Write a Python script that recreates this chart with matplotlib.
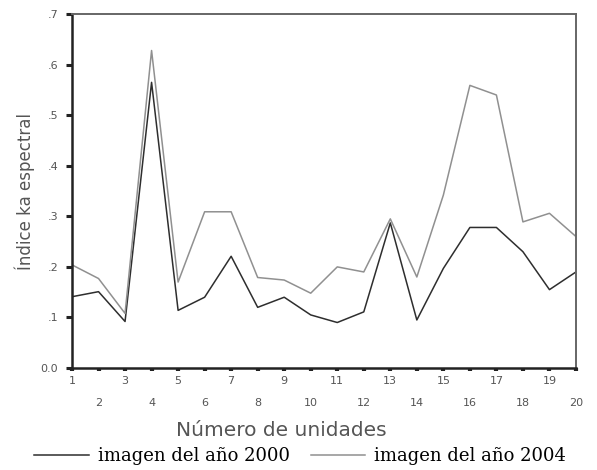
import numpy as np
import matplotlib.pyplot as plt

unidades = list(range(1, 21))
anio_2000 = [0.141, 0.151, 0.092, 0.565, 0.114, 0.140, 0.221, 0.120, 0.140, 0.105,
             0.090, 0.111, 0.287, 0.095, 0.197, 0.278, 0.278, 0.230, 0.155, 0.190]
anio_2004 = [0.204, 0.177, 0.108, 0.628, 0.170, 0.309, 0.309, 0.179, 0.174, 0.148,
             0.200, 0.190, 0.295, 0.180, 0.342, 0.559, 0.540, 0.289, 0.306, 0.260]
y_ticks = [0.0, 0.1, 0.2, 0.3, 0.4, 0.5, 0.6, 0.7]
y_labels = ['0.0', '.1', '.2', '.3', '.4', '.5', '.6', '.7']

fig = plt.figure(figsize=(5.97, 4.70), dpi=100)
ax = fig.add_axes([0.1206, 0.217, 0.8442, 0.753])

l1, = ax.plot(unidades, anio_2000, color='#2e2e2e', lw=1.1)
l2, = ax.plot(unidades, anio_2004, color='#909090', lw=1.1)

ax.set_xlim(1, 20)
ax.set_ylim(0, 0.7)

ax.set_yticks(y_ticks)
ax.set_yticklabels(y_labels)
ax.tick_params(axis='y', direction='out', length=4, width=2.2, color='#222222',
               labelsize=8, labelcolor='#555555', pad=6)

odd = [u for u in unidades if u % 2 == 1]
even = [u for u in unidades if u % 2 == 0]
ax.set_xticks(odd)
ax.set_xticklabels([str(u) for u in odd])
ax.set_xticks(even, minor=True)
ax.set_xticklabels([str(u) for u in even], minor=True)
ax.tick_params(axis='x', which='major', direction='out', length=2.5, width=3,
               color='#222222', labelsize=8, labelcolor='#555555', pad=3)
ax.tick_params(axis='x', which='minor', direction='out', length=2.5, width=3,
               color='#222222', labelsize=8, labelcolor='#555555', pad=19)

for side in ['left', 'bottom']:
    ax.spines[side].set_linewidth(1.8)
    ax.spines[side].set_color('#222222')
for side in ['top', 'right']:
    ax.spines[side].set_linewidth(1.4)
    ax.spines[side].set_color('#666666')

ax.set_xlabel('Número de unidades', fontsize=14.5, color='#555555')
ax.xaxis.set_label_coords(0.415, -0.15)
ax.set_ylabel('Índice ka espectral', fontsize=12, color='#555555', labelpad=4)

fig.legend([l1, l2], ['imagen del año 2000', 'imagen del año 2004'],
           loc='lower left', bbox_to_anchor=(0.05, 0.0), ncol=2, frameon=False,
           borderpad=0.25, borderaxespad=0,
           handlelength=3.0, columnspacing=1.2, handletextpad=0.5,
           prop={'family': 'DejaVu Serif', 'size': 13})

fig.savefig('out.png', dpi=100)
